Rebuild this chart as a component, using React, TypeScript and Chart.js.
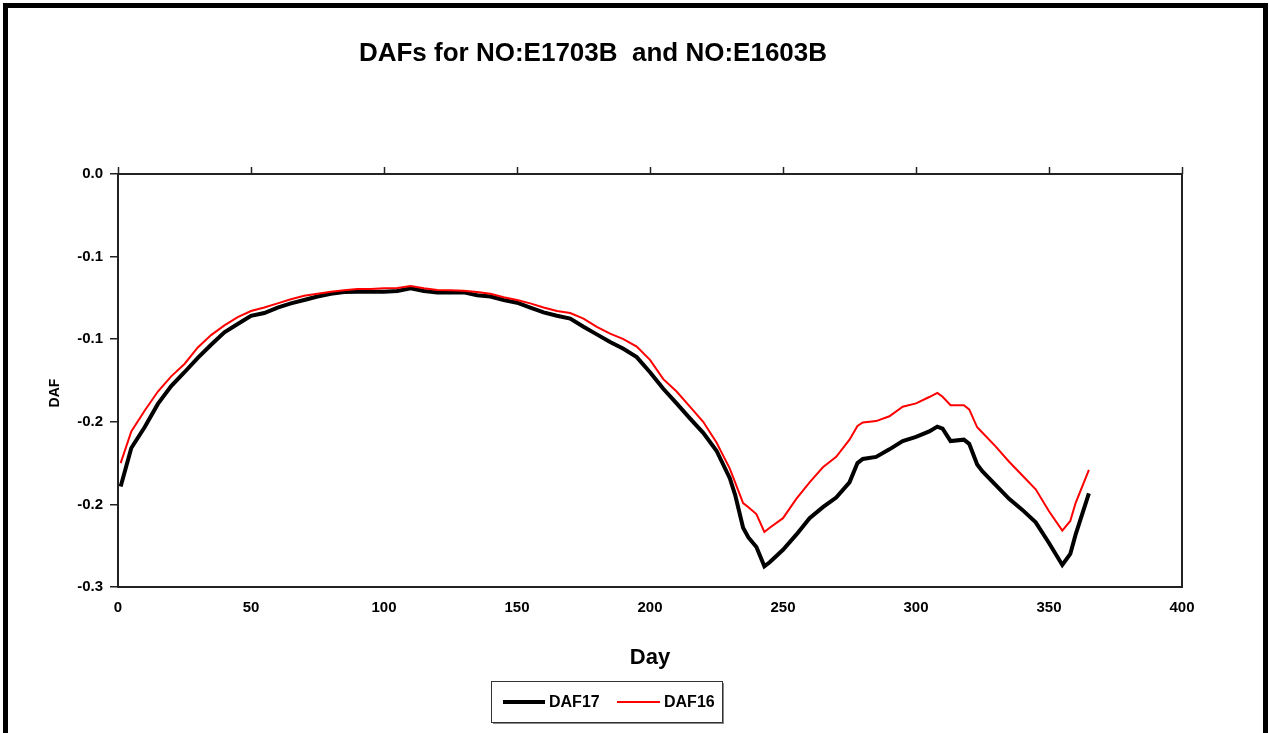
import React, { useEffect, useRef } from "react";
import { Chart, registerables } from "chart.js";

Chart.register(...registerables);

const chartTitle = "DAFs for NO:E1703B  and NO:E1603B";
const xAxisTitle = "Day";
const yAxisTitle = "DAF";
const seriesNames = ["DAF17", "DAF16"];

const days = [1, 5, 10, 15, 20, 25, 30, 35, 40, 45, 50, 55, 60, 65, 70, 75, 80, 85, 90, 95, 100, 105, 110, 115, 120, 125, 130, 135, 140, 145, 150, 155, 160, 165, 170, 175, 180, 185, 190, 195, 200, 205, 210, 215, 220, 225, 230, 232, 235, 237, 240, 243, 245, 250, 255, 260, 265, 270, 275, 278, 280, 285, 290, 295, 300, 305, 308, 310, 313, 318, 320, 323, 325, 330, 335, 340, 345, 350, 355, 358, 360, 365];

const daf17 = [-0.227, -0.199, -0.184, -0.167, -0.154, -0.144, -0.1335, -0.124, -0.115, -0.109, -0.103, -0.101, -0.097, -0.094, -0.0915, -0.089, -0.087, -0.0858, -0.0855, -0.0855, -0.0855, -0.085, -0.083, -0.085, -0.086, -0.086, -0.086, -0.088, -0.089, -0.0915, -0.0935, -0.097, -0.1005, -0.103, -0.105, -0.111, -0.1165, -0.122, -0.127, -0.133, -0.144, -0.156, -0.1666, -0.1775, -0.188, -0.201, -0.221, -0.233, -0.257, -0.264, -0.271, -0.285, -0.282, -0.273, -0.262, -0.25, -0.242, -0.235, -0.224, -0.21, -0.207, -0.2055, -0.2, -0.194, -0.191, -0.187, -0.1835, -0.185, -0.194, -0.193, -0.196, -0.211, -0.216, -0.226, -0.236, -0.244, -0.253, -0.268, -0.284, -0.276, -0.262, -0.232];

const daf16 = [-0.21, -0.187, -0.172, -0.158, -0.147, -0.138, -0.126, -0.117, -0.11, -0.104, -0.0995, -0.097, -0.094, -0.091, -0.0885, -0.087, -0.0855, -0.0845, -0.0835, -0.0835, -0.083, -0.0828, -0.0814, -0.083, -0.0843, -0.0845, -0.0848, -0.0858, -0.087, -0.0895, -0.0915, -0.094, -0.097, -0.0995, -0.101, -0.105, -0.111, -0.116, -0.12, -0.1254, -0.135, -0.149, -0.158, -0.169, -0.18, -0.195, -0.214, -0.224, -0.239, -0.242, -0.247, -0.26, -0.257, -0.25, -0.236, -0.224, -0.213, -0.2055, -0.193, -0.183, -0.1805, -0.1795, -0.176, -0.169, -0.1666, -0.162, -0.159, -0.1618, -0.168, -0.168, -0.171, -0.184, -0.188, -0.198, -0.209, -0.219, -0.229, -0.245, -0.259, -0.252, -0.239, -0.215];

// tick labels from top (0) to bottom (-0.3), as printed on the chart
const yTickLabels = ["0.0", "-0.1", "-0.1", "-0.2", "-0.2", "-0.3"];
const xTickLabels = ["0", "50", "100", "150", "200", "250", "300", "350", "400"];

const FONT = "'Liberation Sans', Arial, sans-serif";

const decorPlugin = {
  id: "decor",
  afterDraw(chart: any) {
    const ctx = chart.ctx;
    const a = chart.chartArea;
    const xs = chart.scales.x;
    ctx.save();
    // plot border
    ctx.strokeStyle = "#222";
    ctx.lineWidth = 2;
    ctx.strokeRect(a.left, a.top, a.right - a.left, a.bottom - a.top);
    // x tick marks on top edge (axis crosses at 0)
    ctx.lineWidth = 1.5;
    xs.ticks.forEach((t: any) => {
      const px = Math.round(xs.getPixelForValue(t.value)) + 0.5;
      ctx.beginPath();
      ctx.moveTo(px, a.top);
      ctx.lineTo(px, a.top - 7);
      ctx.stroke();
    });
    // y axis title
    ctx.fillStyle = "#000";
    ctx.font = `bold 14px ${FONT}`;
    ctx.textAlign = "center";
    ctx.textBaseline = "middle";
    ctx.translate(55, 393);
    ctx.rotate(-Math.PI / 2);
    ctx.fillText(yAxisTitle, 0, 0);
    ctx.restore();

    // legend
    ctx.save();
    const lx = 491, ly = 681, lw = 231, lh = 41;
    ctx.fillStyle = "#888";
    ctx.fillRect(lx + 2, ly + lh, lw, 2);
    ctx.fillRect(lx + lw, ly + 2, 2, lh);
    ctx.fillStyle = "#fff";
    ctx.fillRect(lx, ly, lw, lh);
    ctx.strokeStyle = "#333";
    ctx.lineWidth = 1;
    ctx.strokeRect(lx + 0.5, ly + 0.5, lw, lh);
    const cy = ly + 21;
    ctx.strokeStyle = "#000";
    ctx.lineWidth = 4;
    ctx.beginPath();
    ctx.moveTo(503, cy);
    ctx.lineTo(545, cy);
    ctx.stroke();
    ctx.strokeStyle = "#ff0000";
    ctx.lineWidth = 2;
    ctx.beginPath();
    ctx.moveTo(617, cy);
    ctx.lineTo(660, cy);
    ctx.stroke();
    ctx.fillStyle = "#000";
    ctx.font = `bold 16px ${FONT}`;
    ctx.textAlign = "left";
    ctx.textBaseline = "middle";
    ctx.fillText(seriesNames[0], 549, cy + 1);
    ctx.fillText(seriesNames[1], 664, cy + 1);
    ctx.restore();
  },
};

export default function App() {
  const canvasRef = useRef<HTMLCanvasElement | null>(null);

  useEffect(() => {
    if (!canvasRef.current) return;
    const chart = new Chart(canvasRef.current, {
      type: "line",
      data: {
        datasets: [
          {
            label: seriesNames[0],
            data: days.map((d, i) => ({ x: d, y: daf17[i] })),
            borderColor: "#000",
            borderWidth: 4,
            pointRadius: 0,
            tension: 0,
            order: 1,
          },
          {
            label: seriesNames[1],
            data: days.map((d, i) => ({ x: d, y: daf16[i] })),
            borderColor: "#ff0000",
            borderWidth: 2,
            pointRadius: 0,
            tension: 0,
            order: 0,
          },
        ],
      },
      options: {
        animation: false,
        responsive: true,
        maintainAspectRatio: false,
        layout: { padding: { left: 4, right: 87, top: 0, bottom: 56 } },
        plugins: {
          legend: { display: false },
          tooltip: { enabled: false },
          title: {
            display: true,
            text: chartTitle,
            color: "#000",
            font: { family: FONT, size: 26, weight: "bold" },
            padding: { top: 38.4, bottom: 104.4 },
          },
        },
        scales: {
          x: {
            type: "linear",
            min: 0,
            max: 400,
            afterFit: (s: any) => {
              s.height = 90;
            },
            ticks: {
              stepSize: 50,
              padding: 12,
              color: "#000",
              font: { family: FONT, size: 15, weight: "bold" },
              callback: (v: any, i: number) => xTickLabels[i] ?? String(v),
            },
            grid: { display: false, drawTicks: false },
            border: { display: false },
            title: {
              display: true,
              text: xAxisTitle,
              color: "#000",
              font: { family: FONT, size: 22, weight: "bold" },
              padding: { top: 0, bottom: 6 },
            },
          },
          y: {
            type: "linear",
            min: -0.3,
            max: 0,
            afterFit: (s: any) => {
              s.width = 114;
            },
            ticks: {
              stepSize: 0.06,
              padding: 7,
              color: "#000",
              font: { family: FONT, size: 15, weight: "bold" },
              callback: (v: any, i: number, ticks: any[]) =>
                yTickLabels[ticks.length - 1 - i] ?? String(v),
            },
            grid: {
              display: true,
              drawOnChartArea: false,
              drawTicks: true,
              tickLength: 8,
              color: "#222",
              lineWidth: 1.5,
            },
            border: { display: false },
          },
        },
      },
      plugins: [decorPlugin],
    });
    return () => chart.destroy();
  }, []);

  return (
    <div
      style={{
        position: "fixed",
        left: 0,
        top: 0,
        width: 1269,
        height: 733,
        background: "#fff",
        overflow: "hidden",
      }}
    >
      <canvas ref={canvasRef} style={{ display: "block" }} />
      <div
        style={{
          position: "absolute",
          left: 3,
          top: 3,
          width: 1265,
          height: 800,
          boxSizing: "border-box",
          borderLeft: "5px solid #000",
          borderTop: "5px solid #000",
          borderRight: "5px solid #000",
          pointerEvents: "none",
        }}
      />
    </div>
  );
}
